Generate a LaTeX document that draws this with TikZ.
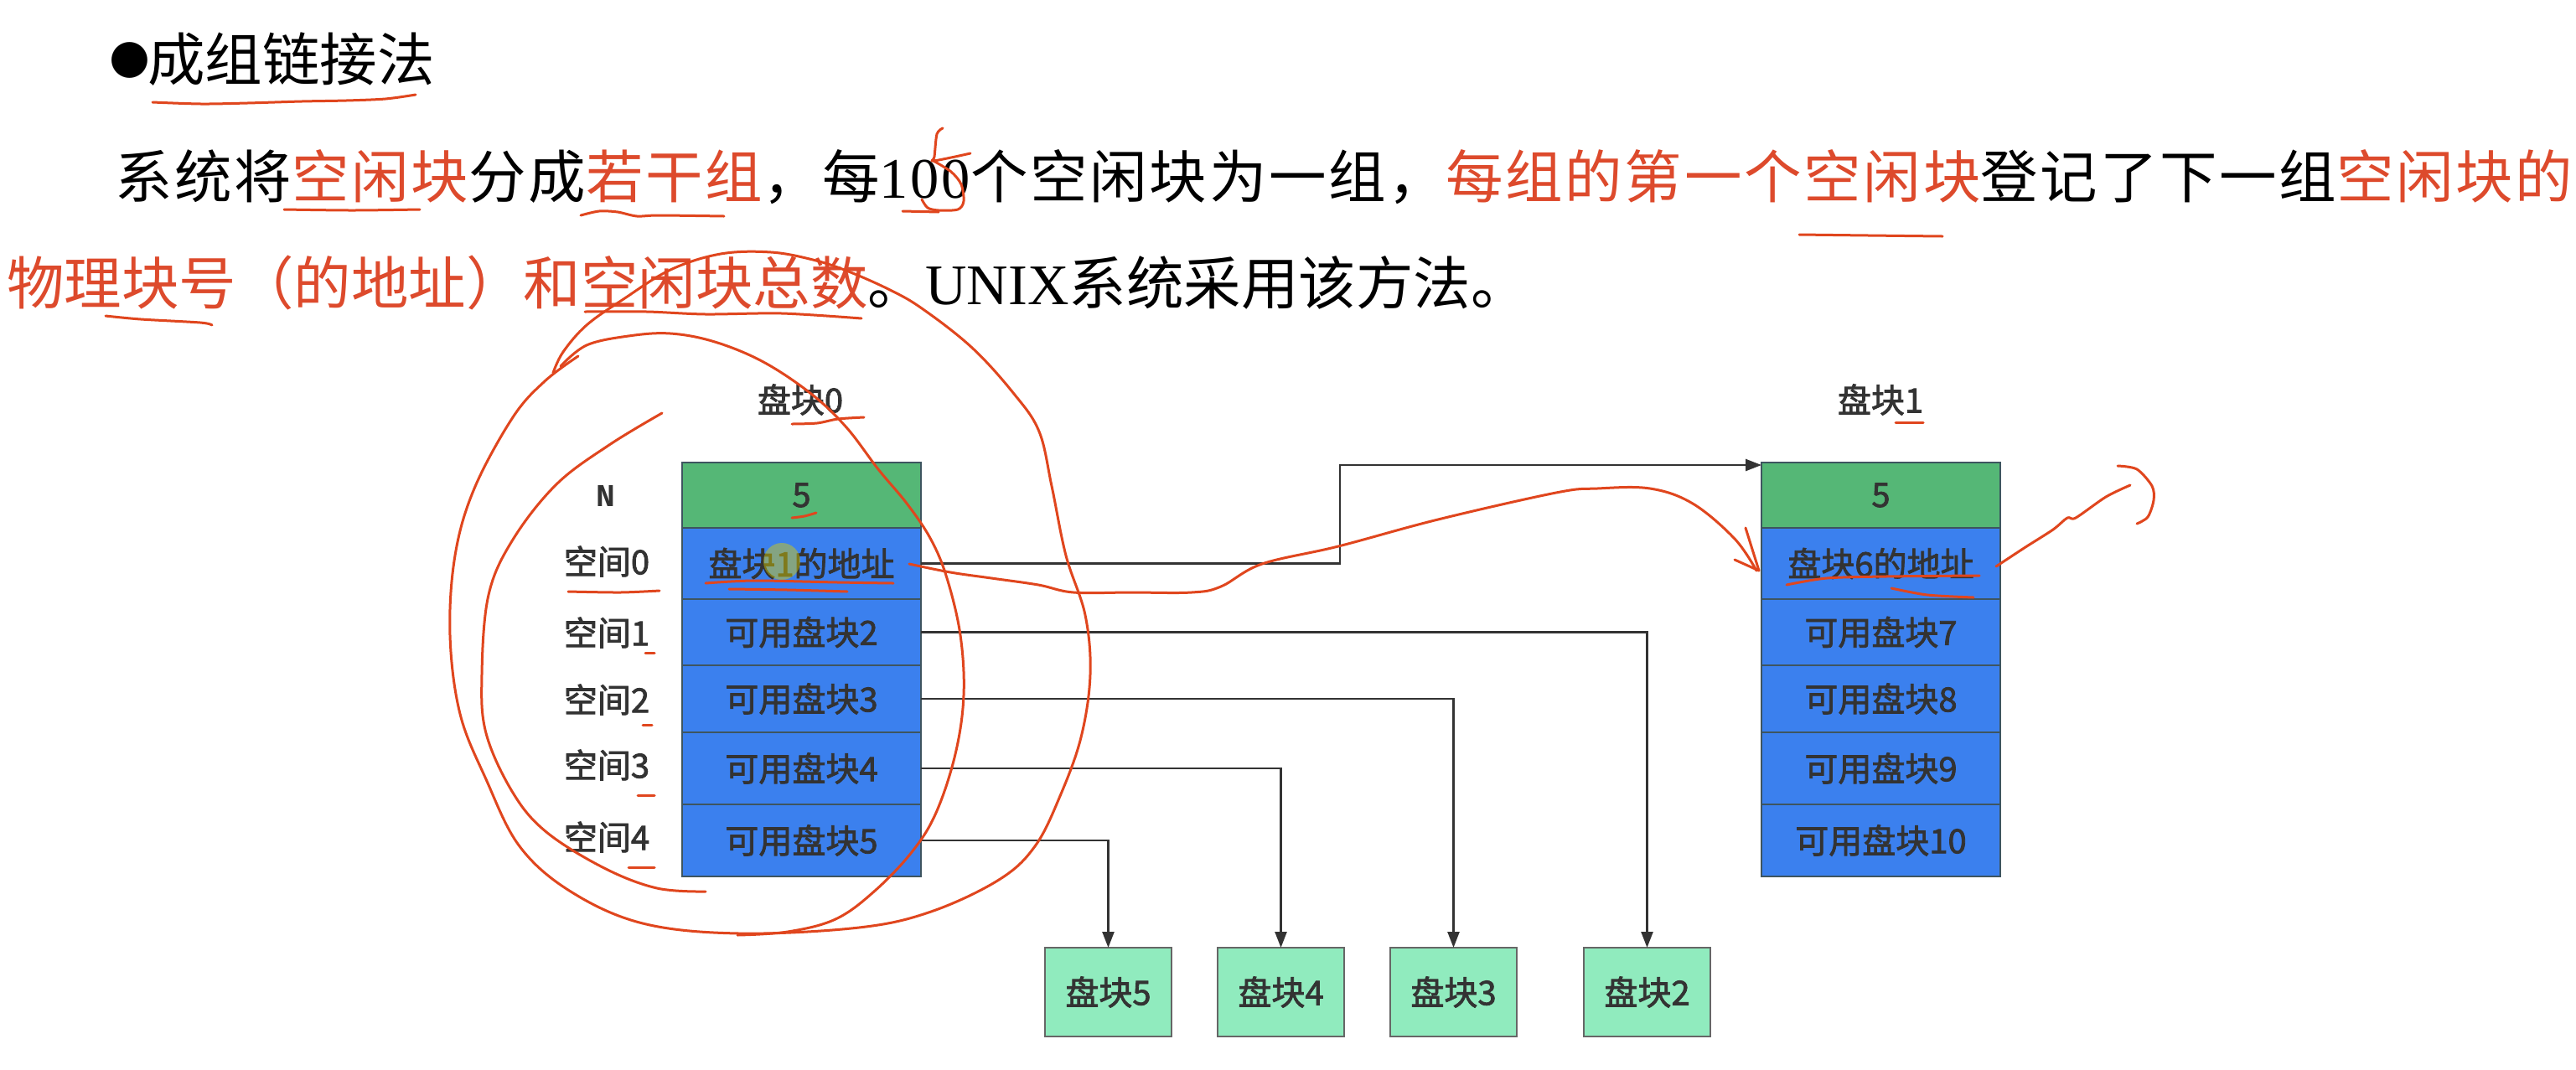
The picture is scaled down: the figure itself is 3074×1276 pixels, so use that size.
\documentclass[tikz,border=0pt]{standalone}
\usepackage{fontspec}
\setmainfont{Liberation Serif}
\newfontfamily\cjk{Noto Sans CJK SC}
\newfontfamily\cjkd{Noto Sans CJK SC}[FakeBold=2]
\newfontfamily\cjkw{Noto Sans CJK SC}[LetterSpace=4]
\newfontfamily\serifw{Liberation Serif}[LetterSpace=4]
\newfontfamily\dejavu{DejaVu Sans}
\newfontfamily\monob{Liberation Mono}
\usetikzlibrary{arrows.meta,calc}
\definecolor{hdrgreen}{HTML}{55B776}
\definecolor{rowblue}{HTML}{3B80EE}
\definecolor{leafgreen}{HTML}{90EBBE}
\definecolor{bordc}{HTML}{3E5560}
\definecolor{txt}{HTML}{333333}
\definecolor{redtxt}{HTML}{DD4A2C}
\definecolor{ink}{HTML}{E0461E}
\tikzset{
  cellh/.style={draw=bordc, line width=1pt, fill=hdrgreen, minimum width=142.5pt,
    inner sep=0pt, outer sep=0pt, text=txt, font=\cjkd\fontsize{20}{24}\selectfont},
  cellb/.style={cellh, fill=rowblue},
  leaf/.style={draw=gray!80!black, line width=1pt, fill=leafgreen, minimum width=75.5pt,
    minimum height=53pt, inner sep=0pt, outer sep=0pt, text=txt, font=\cjkd\fontsize{20}{24}\selectfont},
  lbl/.style={inner sep=0pt, text=txt, font=\cjkd\fontsize{20}{24}\selectfont},
  conn/.style={draw=black!80, line width=1.25pt, -{Triangle[length=9.5pt,width=7pt]}},
  ann/.style={draw=ink, line width=1.5pt, line cap=round, line join=round},
  bigtext/.style={inner sep=0pt, anchor=west, text=black}
}
\begin{document}
\begin{tikzpicture}[x=0.5pt,y=-0.5pt]
\useasboundingbox (0,0) rectangle (3074,1276);
\fill[white] (0,0) rectangle (3074,1276);

% heading and text
\node[inner sep=0pt, font=\dejavu\fontsize{28}{30}\selectfont] (bul) at (155,72) {●};
\node[bigtext, font=\cjk\fontsize{34.25}{40}\selectfont] (ttl) at (176,71) {成组链接法};
\node[bigtext] (l2) at (137,211) {\cjkw\fontsize{34.25}{40}\selectfont 系统将\textcolor{redtxt}{空闲块}分成\textcolor{redtxt}{若干组}，每{\serifw 100}个空闲块为一组，\textcolor{redtxt}{每组的第一个空闲块}登记了下一组\textcolor{redtxt}{空闲块的}};
\node[bigtext] (l3) at (8,337) {\cjk\fontsize{34.25}{40}\selectfont\textcolor{redtxt}{物理块号（的地址）和空闲块总数}。{\rmfamily UNIX}系统采用该方法。};

% block 0
\node[lbl] (t0) at (955,477) {盘块0};
\node[cellh, minimum height=39pt] (a5) at (956.5,591) {5};
\node[cellb, minimum height=42.5pt] (a0) at (956.5,672.5) {盘块1的地址};
\node[cellb, minimum height=39.5pt] (a1) at (956.5,754.5) {可用盘块2};
\node[cellb, minimum height=40pt] (a2) at (956.5,834) {可用盘块3};
\node[cellb, minimum height=43pt] (a3) at (956.5,917) {可用盘块4};
\node[cellb, minimum height=43pt] (a4) at (956.5,1003) {可用盘块5};

% block 1
\node[lbl] (t1) at (2244,477) {盘块1};
\node[cellh, minimum height=39pt] (b5) at (2244.5,591) {5};
\node[cellb, minimum height=42.5pt] (b0) at (2244.5,672.5) {盘块6的地址};
\node[cellb, minimum height=39.5pt] (b1) at (2244.5,754.5) {可用盘块7};
\node[cellb, minimum height=40pt] (b2) at (2244.5,834) {可用盘块8};
\node[cellb, minimum height=43pt] (b3) at (2244.5,917) {可用盘块9};
\node[cellb, minimum height=43pt] (b4) at (2244.5,1003) {可用盘块10};

% left labels
\node[inner sep=0pt, text=txt, font=\monob\bfseries\fontsize{19}{22}\selectfont] (nn) at (723,592) {N};
\node[lbl] (s0) at (724,670) {空间0};
\node[lbl] (s1) at (724,755) {空间1};
\node[lbl] (s2) at (724,835) {空间2};
\node[lbl] (s3) at (724,913) {空间3};
\node[lbl] (s4) at (724,999) {空间4};

% leaves
\node[leaf] (d5) at (1322.5,1184) {盘块5};
\node[leaf] (d4) at (1528.5,1184) {盘块4};
\node[leaf] (d3) at (1734.5,1184) {盘块3};
\node[leaf] (d2) at (1965.5,1184) {盘块2};

% connectors
\coordinate (k0) at (1599,672.5);
\draw[conn] (a0.east) -- (k0) |- ($(b5.north west)+(0,3)$);
\draw[conn] (a1.east) -| (d2.north);
\draw[conn] (a2.east) -| (d3.north);
\draw[conn] (a3.east) -| (d4.north);
\draw[conn] (a4.east) -| (d5.north);

% pointer highlight
\fill[yellow!70!olive, opacity=0.45] (933,670) circle (11pt);

% ---- red hand annotations ----
\draw[ann] plot[smooth] coordinates {(182,122) (240,124) (295,123) (360,121) (413,120) (460,118) (496,113)};
\draw[ann] plot[smooth] coordinates {(339,250) (420,251) (501,250)};
\draw[ann] plot[smooth] coordinates {(693,257) (715,252) (737,253) (760,258) (786,257) (864,258)};
\draw[ann] plot[smooth] coordinates {(1125,153) (1118,160) (1115,187) (1113,192) (1135,188) (1158,183)};
\draw[ann] plot[smooth] coordinates {(1114,192) (1135,205) (1147,220) (1150,240) (1143,250) (1120,251) (1107,248) (1100,238)};
\draw[ann] (1077,252) -- (1120,253);
\draw[ann] plot[smooth] coordinates {(2147,280) (2230,281) (2318,282)};
\draw[ann] plot[smooth] coordinates {(126,377) (168,381) (239,385) (253,388)};
\draw[ann] plot[smooth] coordinates {(698,372) (772,372) (842,375) (933,374) (1028,380)};

% big loop
\draw[ann] plot[smooth, tension=0.6] coordinates {(660,445) (672,420) (700,388) (744,357) (800,322) (860,303) (920,301) (970,310) (1010,323) (1060,345) (1100,368) (1160,415) (1210,470) (1240,515) (1255,580) (1272,663) (1295,734) (1301,805) (1290,880) (1265,950) (1235,1010) (1192,1050) (1111,1088) (1025,1107) (882,1114) (767,1102) (681,1064) (620,1010) (580,930) (549,852) (537,758) (543,663) (566,583) (612,498) (650,455) (690,425)};
% medium loop
\draw[ann] plot[smooth, tension=0.6] coordinates {(669,437) (700,412) (750,401) (800,398) (853,408) (911,432) (968,470) (1010,510) (1048,560) (1083,602) (1111,644) (1130,690) (1146,758) (1150,830) (1140,900) (1117,970) (1088,1017) (1043,1064) (997,1097) (940,1112) (880,1116)};
% inner stroke
\draw[ann] plot[smooth, tension=0.6] coordinates {(790,493) (727,531) (664,578) (612,644) (583,710) (575,805) (580,875) (612,946) (652,993) (721,1036) (784,1060) (842,1064)};

% curved arrow between blocks
\draw[ann] plot[smooth, tension=0.6] coordinates {(1085,673) (1134,683) (1183,690) (1239,698) (1281,707) (1350,707) (1422,707) (1457,700) (1506,673) (1597,652) (1716,620) (1857,588) (1906,583) (1969,583) (2020,601) (2070,643) (2096,681)};
\draw[ann] (2083,630) -- (2099,681) -- (2070,668);

% right stroke and bracket
\draw[ann] plot[smooth] coordinates {(2382,676) (2417,653) (2450,632) (2467,618) (2477,618) (2513,593) (2542,579)};
\draw[ann] plot[smooth] coordinates {(2527,556) (2550,560) (2568,580) (2570,597) (2563,617) (2550,625)};

% small underlines
\draw[ann] plot[smooth] coordinates {(945,506) (975,505) (1000,500) (1031,498)};
\draw[ann] plot[smooth] coordinates {(945,618) (960,616) (974,612)};
\draw[ann] plot[smooth] coordinates {(678,706) (740,707) (787,705)};
\draw[ann] (770,779) -- (781,779);
\draw[ann] (767,865) -- (778,865);
\draw[ann] (761,949) -- (781,949);
\draw[ann] (750,1035) -- (781,1035);
\draw[ann] plot[smooth] coordinates {(842,696) (900,693) (1000,695) (1066,696)};
\draw[ann] plot[smooth] coordinates {(870,703) (940,704) (1011,706)};
\draw[ann] plot[smooth] coordinates {(2132,698) (2180,690) (2250,688) (2362,687)};
\draw[ann] plot[smooth] coordinates {(2257,702) (2300,710) (2355,713)};
\draw[ann] (2262,504) -- (2295,504);
\end{tikzpicture}
\end{document}
